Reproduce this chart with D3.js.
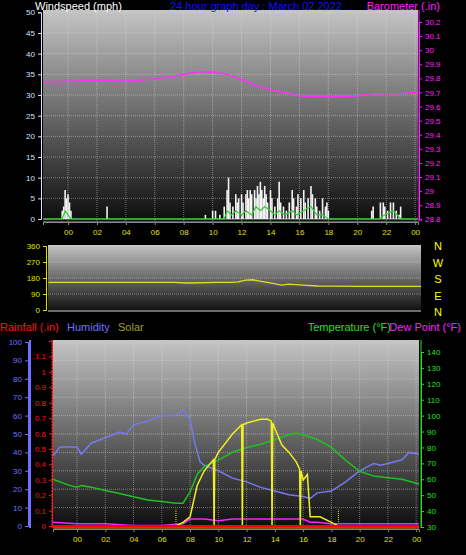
<!DOCTYPE html><html><head><meta charset="utf-8">
<script src="https://cdn.jsdelivr.net/npm/d3@7"></script>
<style>body{margin:0;background:#000}svg{display:block}text{font-family:"Liberation Sans",Arial,sans-serif}</style></head><body>
<script>
const hourLabels=["00","02","04","06","08","10","12","14","16","18","20","22","00"];
const hourTicks=[0,2,4,6,8,10,12,14,16,18,20,22,24];
const windTicks=[0,5,10,15,20,25,30,35,40,45,50];
const baroTicks=[28.8,28.9,29,29.1,29.2,29.3,29.4,29.5,29.6,29.7,29.8,29.9,30,30.1,30.2];
const dirTicks=[0,90,180,270,360];
const dirLetters=["N","W","S","E","N"];
const humTicks=[0,10,20,30,40,50,60,70,80,90,100];
const rainTicks=[0,0.1,0.2,0.3,0.4,0.5,0.6,0.7,0.8,0.9,1,1.1];
const tempTicks=[30,40,50,60,70,80,90,100,110,120,130,140];
const gustT=[-0.4,-0.3,-0.2,-0.1,0,0.1,0.2,2.7,9.5,10,10.2,10.5,10.8,11,11.1,11.2,11.4,11.6,11.7,11.8,12,12.1,12.3,12.4,12.5,12.6,12.7,12.9,13,13.1,13.2,13.3,13.4,13.5,13.6,13.7,13.8,14,14.1,14.3,14.5,14.6,14.7,14.9,15.1,15.3,15.5,15.6,15.8,15.9,16.1,16.3,16.4,16.6,16.8,16.9,17.1,17.2,17.4,17.6,17.8,17.9,18,21,21.1,21.6,21.8,21.9,22.1,22.3,22.5,22.7,22.9,23];
const gustV=[2,3,7,5,6,4,2,3,1,2,2,1,3,7,10,4,3,6,4,5,6,4,6,7,5,7,6,7,5,8,6,9,7,5,8,6,4,7,5,3,5,9,4,3,2,4,7,5,3,6,5,7,4,5,8,6,5,3,2,5,3,4,2,2,3,4,4,3,2,4,4,2,1,3];
const avgT=[-1.7,-0.4,-0.2,0,0.2,10.8,11,11.3,11.6,12,12.3,12.7,13,13.3,13.6,14,14.3,14.6,15,15.5,15.8,16.3,16.8,17.2,17.6,18,21.5,21.9,22.5,23,24.2];
const avgV=[0,0,2,1,0,0,2,1,2,1,2,1,3,2,3,2,1,2,1,2,1,2,3,1,1,0,0,1,2,0,0];
const baroT=[-1.7,0,1,3,4,5,6,7,8,9,10,11,12,13,14,15,16,18,20,21,22,23,23.5,24.2];
const baroV=[29.775,29.78,29.785,29.785,29.78,29.785,29.8,29.81,29.83,29.845,29.845,29.83,29.79,29.75,29.72,29.7,29.675,29.672,29.675,29.69,29.69,29.69,29.7,29.7];
const dirT=[-1.7,7,8,10,11,11.5,12,12.5,13,13.5,14,14.5,15,16,17,18,20,22,24.2];
const dirV=[155,155,152,155,155,158,168,170,162,155,148,140,145,140,135,134,133,133,133];
const humT=[-1.7,-1.2,0,0.3,1,2,3,3.5,4,5,6,6.5,7,7.5,8,8.3,8.7,9,10,11,12,13,14,15,16,16.5,17,18,19,20,21,21.5,22,23,23.5,24.2];
const humV=[38,43,43,39,45,48,51,50,55,57,60,60,60,63,58,46,35,33,30,26,24,21,19,17,16,15,18,19,24,30,34,33,34,36,40,39];
const tempT=[-1.7,-0.5,0,0.3,1,2,3,4,5,6,7,7.5,8,8.5,9,10,11,12,13,14,15,15.5,16,17,18,19,20,21,22,23,24.2];
const tempV=[60,56,55,56,55,53,51,49,47,46,45,45,52,63,68,72,77,80,82,85,88,89,88,85,80,72,65,62,61,60,57];
const dewT=[-1.7,0,2,4,6,7.5,8,9,10,11,12,13,14,15,16,16.5,17,18,20,22,24.2];
const dewV=[33,32,32,31,31,32,35,35,34,35,35,35,35,35,35,33,33,32,32,32,32];
const solT=[-1.7,7,7.5,8,8.5,9,9.65,9.7,9.75,10,11,11.65,11.7,11.75,12,13,13.5,13.75,13.8,13.85,14,14.5,15,15.5,15.75,15.8,15.85,16,16.3,16.5,17.2,18,18.5,24.2];
const solV=[0,0,2,5,22,30,36,0,36,40,50,55,0,55,56,58,58,57,0,56,53,44,40,35,31,0,30,25,28,5,5,2,0,0];

const W=466,H=555;
const svg=d3.select("body").append("svg").attr("width",W).attr("height",H);
const defs=svg.append("defs");
const g=defs.append("linearGradient").attr("id","bg").attr("x1",0).attr("x2",0).attr("y1",0).attr("y2",1);
g.append("stop").attr("offset",0).attr("stop-color","#c4c4c4");
g.append("stop").attr("offset",1).attr("stop-color","#0c0c0c");

function panel(x0,x1,y0,y1){
  svg.append("rect").attr("x",x0).attr("y",y0).attr("width",x1-x0).attr("height",y1-y0).attr("fill","url(#bg)");
}
function grid(xs,ys,x0,x1,y0,y1,hv,vv){
  hv.forEach(v=>svg.append("line").attr("x1",x0).attr("x2",x1).attr("y1",ys(v)).attr("y2",ys(v)).attr("stroke","#ddd").attr("stroke-opacity",0.45).attr("stroke-dasharray","1,1"));
  vv.forEach(v=>svg.append("line").attr("x1",xs(v)).attr("x2",xs(v)).attr("y1",y0).attr("y2",y1).attr("stroke","#ddd").attr("stroke-opacity",0.45).attr("stroke-dasharray","1,1"));
}
function yaxis(scale,x,ticks,color,side,fmt){
  const ax=(side==="left"?d3.axisLeft(scale):d3.axisRight(scale)).tickValues(ticks).tickSize(3).tickFormat(fmt||(d=>d));
  const a=svg.append("g").attr("transform",`translate(${x},0)`).call(ax);
  a.selectAll("text").attr("fill",color).style("font-size","8px").style("font-family","Liberation Sans");
  a.selectAll("line,path").attr("stroke",color);
  return a;
}
function xaxis(scale,y){
  const a=svg.append("g").attr("transform",`translate(0,${y})`).call(d3.axisBottom(scale).tickValues(hourTicks).tickFormat((d,i)=>hourLabels[i]).tickSize(3));
  a.selectAll("text").attr("fill","#e0e000").style("font-size","8px").style("font-family","Liberation Sans").attr("dy","0.9em");
  a.selectAll("line,path").attr("stroke","#888");
}
const line=(xs,ys,T,V,color,w)=>svg.append("path").datum(T.map((t,i)=>[t,V[i]])).attr("d",d3.line().x(d=>xs(d[0])).y(d=>ys(d[1]))).attr("fill","none").attr("stroke",color).attr("stroke-width",w||1.5);

// top panel
const xT=d3.scaleLinear().domain([-1.73,24.2]).range([43,418]);
const yW=d3.scaleLinear().domain([0,50]).range([219,12.3]);
const yB=d3.scaleLinear().domain([28.8,30.2]).range([219.3,22]);
panel(43,418,10,222);
grid(xT,yW,43,418,10,222,windTicks.slice(1),hourTicks);
yaxis(yW,41,windTicks,"#d8e0ff","left");
yaxis(yB,419,baroTicks,"#ff20ff","right");
svg.append("line").attr("x1",419).attr("x2",419).attr("y1",10).attr("y2",222).attr("stroke","#ff20ff");
svg.append("line").attr("x1",43).attr("x2",418).attr("y1",yW(0)).attr("y2",yW(0)).attr("stroke","#aaa");
svg.append("line").attr("x1",43).attr("x2",418).attr("y1",222).attr("y2",222).attr("stroke","#60d060");
gustT.forEach((t,i)=>svg.append("line").attr("x1",xT(t)).attr("x2",xT(t)).attr("y1",yW(0)).attr("y2",yW(gustV[i])).attr("stroke","#f4f4f4").attr("stroke-width",1.6));
line(xT,yW,avgT,avgV,"#30d030",1.2);
line(xT,yB,baroT,baroV,"#ff30ff",1.5);
xaxis(xT,222);
svg.append("text").attr("x",35).attr("y",10).attr("fill","#fff").style("font-size","11px").text("Windspeed (mph)");
svg.append("text").attr("x",256).attr("y",10).attr("text-anchor","middle").attr("fill","#1010ff").style("font-size","11px").text("24 hour graph day : March 02 2022");
svg.append("text").attr("x",440).attr("y",10).attr("text-anchor","end").attr("fill","#ff20ff").style("font-size","11px").text("Barometer (.in)");

// direction panel
const xD=d3.scaleLinear().domain([-1.73,24.2]).range([48,421]);
const yD=d3.scaleLinear().domain([0,360]).range([310,246]);
panel(48,421,245,312);
grid(xD,yD,48,421,245,312,dirTicks.slice(1),[]);
yaxis(yD,46,dirTicks,"#e0e000","left");
svg.append("line").attr("x1",48).attr("x2",421).attr("y1",311).attr("y2",311).attr("stroke","#ccc");
line(xD,yD,dirT,dirV,"#e0e020",1.3);
dirLetters.forEach((l,i)=>svg.append("text").attr("x",438).attr("y",250+i*16.5).attr("text-anchor","middle").attr("fill","#ffff00").style("font-size","11px").text(l));

// bottom panel
const xB=d3.scaleLinear().domain([-1.7,24.2]).range([53,419]);
const yH=d3.scaleLinear().domain([0,100]).range([526,342]);
const yR=d3.scaleLinear().domain([0,1.2]).range([526,341]);
const yTm=d3.scaleLinear().domain([30,140]).range([527,352]);
panel(53,419,340,528);
grid(xB,yH,53,419,340,528,humTicks.slice(1),hourTicks);
yaxis(yH,28,humTicks,"#7070ff","left");
svg.append("line").attr("x1",30).attr("x2",30).attr("y1",340).attr("y2",528).attr("stroke","#7070ff").attr("stroke-width",2);
yaxis(yR,52,rainTicks,"#ff1010","left");
svg.append("line").attr("x1",52).attr("x2",52).attr("y1",340).attr("y2",528).attr("stroke","#ff3030").attr("stroke-dasharray","2,1");
yaxis(yTm,421,tempTicks,"#20e020","right");
svg.append("line").attr("x1",421).attr("x2",421).attr("y1",340).attr("y2",528).attr("stroke","#20e020");
[7,18.5].forEach(t=>svg.append("line").attr("x1",xB(t)).attr("x2",xB(t)).attr("y1",yH(0)).attr("y2",yH(9)).attr("stroke","#e0e000").attr("stroke-dasharray","1,1"));
line(xB,yTm,dewT,dewV,"#ff20ff",1.5);
line(xB,yH,humT,humV,"#7878f0",1.5);
line(xB,yTm,tempT,tempV,"#20c020",1.5);
line(xB,yH,solT,solV,"#f0f020",1.5);
svg.append("line").attr("x1",53).attr("x2",419).attr("y1",yR(0)).attr("y2",yR(0)).attr("stroke","#ff0000").attr("stroke-width",2);
svg.append("line").attr("x1",53).attr("x2",419).attr("y1",yR(0)+2).attr("y2",yR(0)+2).attr("stroke","#ffa020").attr("stroke-width",1);
xaxis(xB,529);
const leg=[["Rainfall (.in)",0,"#ff1010"],["Humidity",67,"#7070ff"],["Solar",118,"#a0a020"]];
leg.forEach(l=>svg.append("text").attr("x",l[1]).attr("y",331).attr("fill",l[2]).style("font-size","11px").text(l[0]));
svg.append("text").attr("x",391).attr("y",331).attr("text-anchor","end").attr("fill","#20e020").style("font-size","11px").text("Temperature (°F)");
svg.append("text").attr("x",461).attr("y",331).attr("text-anchor","end").attr("fill","#ff20ff").style("font-size","11px").text("Dew Point (°F)");
</script></body></html>
